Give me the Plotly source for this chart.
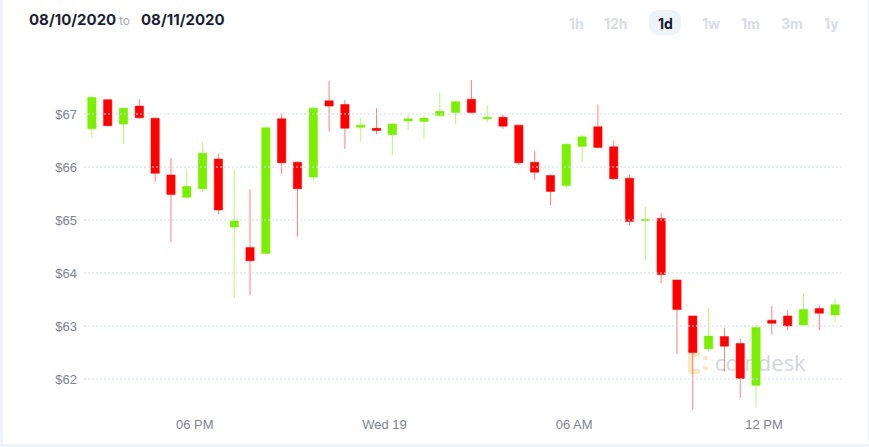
import base64
import pandas as pd
import plotly.graph_objects as go

# ---------------- data (USD, 30-minute candles) ----------------
open_ = [66.72, 67.27, 66.81, 67.15, 66.92, 65.85, 65.43, 65.59, 66.15, 64.87,
         64.48, 64.37, 66.91, 66.09, 65.81, 67.25, 67.18, 66.75, 66.73, 66.61,
         66.87, 66.86, 66.97, 67.03, 67.28, 66.91, 66.94, 66.79, 66.09, 65.84,
         65.65, 66.39, 66.76, 66.38, 65.79, 64.99, 65.03, 63.87, 63.19, 62.57,
         62.80, 62.67, 61.88, 63.11, 63.19, 63.02, 63.33, 63.21]
high = [67.35, 67.28, 67.12, 67.28, 66.93, 66.17, 65.96, 66.47, 66.25, 65.94,
        65.58, 66.75, 67.01, 66.10, 67.14, 67.63, 67.26, 66.93, 67.11, 66.84,
        66.99, 66.97, 67.41, 67.26, 67.64, 67.17, 66.99, 66.80, 66.30, 65.86,
        66.45, 66.62, 67.18, 66.50, 65.86, 65.25, 65.13, 63.87, 63.19, 63.34,
        62.97, 62.76, 63.04, 63.38, 63.29, 63.60, 63.40, 63.52]
low = [66.54, 66.76, 66.43, 66.91, 65.72, 64.59, 65.40, 65.52, 65.10, 63.52,
       63.58, 64.36, 65.87, 64.69, 65.74, 66.67, 66.34, 66.48, 66.62, 66.23,
       66.70, 66.53, 66.95, 66.81, 67.01, 66.84, 66.72, 66.04, 65.76, 65.28,
       65.59, 66.09, 66.35, 65.75, 64.89, 64.24, 63.81, 62.47, 61.42, 62.52,
       62.14, 61.64, 61.46, 62.84, 62.92, 63.00, 62.92, 63.06]
close = [67.31, 66.78, 67.11, 66.93, 65.88, 65.48, 65.63, 66.26, 65.19, 64.98,
         64.23, 66.74, 66.08, 65.59, 67.11, 67.15, 66.73, 66.79, 66.69, 66.81,
         66.91, 66.92, 67.05, 67.23, 67.03, 66.94, 66.77, 66.08, 65.90, 65.54,
         66.43, 66.57, 66.37, 65.78, 64.97, 65.01, 63.97, 63.31, 62.50, 62.81,
         62.62, 62.01, 62.97, 63.05, 63.00, 63.31, 63.24, 63.40]
times = pd.date_range("2020-08-18 14:45", periods=len(open_), freq="30min")

y_tick_vals = [62, 63, 64, 65, 66, 67]
y_tick_text = ["$62", "$63", "$64", "$65", "$66", "$67"]
x_tick_vals = ["2020-08-18 18:00", "2020-08-19 00:00", "2020-08-19 06:00", "2020-08-19 12:00"]
x_tick_text = ["06 PM", "Wed 19", "06 AM", "12 PM"]
x_range = ["2020-08-18 14:30", "2020-08-19 14:30"]
y_range = [61.321, 68.019]

header_from = "08/10/2020"
header_to = "08/11/2020"
range_buttons = ["1h", "12h", "1d", "1w", "1m", "3m", "1y"]
active_button = "1d"

# ---------------- layout geometry (pixels) ----------------
W, H = 869, 447
ML, MR, MT, MB = 84, 26, 60, 32
PW, PH = W - ML - MR, H - MT - MB


def px_x(px):
    return (px - ML) / PW


def px_y(py):
    return (H - MB - py) / PH


fig = go.Figure()
fig.add_trace(go.Candlestick(
    x=times, open=open_, high=high, low=low, close=close,
    increasing=dict(fillcolor="#7af000", line=dict(color="rgba(122,240,0,0.55)", width=1)),
    decreasing=dict(fillcolor="#ff0000", line=dict(color="rgba(255,0,0,0.5)", width=1)),
    whiskerwidth=0, showlegend=False, hoverinfo="skip",
))

shapes = []
# dotted gridlines drawn above the candles (as in the reference)
for v in y_tick_vals:
    shapes.append(dict(type="line", xref="paper", yref="y", x0=0, x1=1, y0=v, y1=v,
                       layer="above", line=dict(color="#d3dbee", width=1, dash="2px,2px")))
# page frame strips
strip = "#eef2f9"
shapes.append(dict(type="rect", xref="paper", yref="paper", x0=px_x(0), x1=px_x(3),
                   y0=px_y(H), y1=px_y(0), fillcolor=strip, line=dict(width=0), layer="below"))
shapes.append(dict(type="rect", xref="paper", yref="paper", x0=px_x(0), x1=px_x(W),
                   y0=px_y(H), y1=px_y(444), fillcolor=strip, line=dict(width=0), layer="below"))
shapes.append(dict(type="rect", xref="paper", yref="paper", x0=px_x(868), x1=px_x(W),
                   y0=px_y(H), y1=px_y(0), fillcolor=strip, line=dict(width=0), layer="below"))

# active button pill (rounded rect)
bx0, bx1, by0, by1, r = 649, 681, 10, 35, 10
pts = [
    ("M", bx0 + r, by0), ("L", bx1 - r, by0), ("Q", bx1, by0, bx1, by0 + r),
    ("L", bx1, by1 - r), ("Q", bx1, by1, bx1 - r, by1), ("L", bx0 + r, by1),
    ("Q", bx0, by1, bx0, by1 - r), ("L", bx0, by0 + r), ("Q", bx0, by0, bx0 + r, by0),
]
path = ""
for p in pts:
    cmd = p[0]
    coords = p[1:]
    segs = []
    for i in range(0, len(coords), 2):
        segs.append(f"{px_x(coords[i]):.5f},{px_y(coords[i + 1]):.5f}")
    path += cmd + " ".join(segs) + " "
path += "Z"
shapes.append(dict(type="path", xref="paper", yref="paper", path=path,
                   fillcolor="#eef2f9", line=dict(width=0), layer="below"))

annotations = []
hdr_font = dict(family="Inter, Noto Sans, sans-serif", size=15, color="#1c1f33")
annotations.append(dict(text=f"<b>{header_from}</b>", x=px_x(27), y=px_y(19.5), xref="paper", yref="paper",
                        xanchor="left", yanchor="middle", showarrow=False, font=hdr_font))
annotations.append(dict(text="to", x=px_x(117), y=px_y(20.5), xref="paper", yref="paper",
                        xanchor="left", yanchor="middle", showarrow=False,
                        font=dict(family="Inter, sans-serif", size=12, color="#a9adba")))
annotations.append(dict(text=f"<b>{header_to}</b>", x=px_x(139), y=px_y(19.5), xref="paper", yref="paper",
                        xanchor="left", yanchor="middle", showarrow=False, font=hdr_font))
btn_centers = [576, 616, 665, 711, 750, 792, 831]
for lab, cx in zip(range_buttons, btn_centers):
    col = "#14172b" if lab == active_button else "#d9dce6"
    annotations.append(dict(text=f"<b>{lab}</b>", x=px_x(cx), y=px_y(24), xref="paper", yref="paper",
                            xanchor="center", yanchor="middle", showarrow=False,
                            font=dict(family="Inter, sans-serif", size=14, color=col)))

# watermark (below the candles)
svg = (
    '<svg xmlns="http://www.w3.org/2000/svg" width="124" height="30" viewBox="0 0 124 30">'
    '<g fill="#fde6c2">'
    '<rect x="2" y="4" width="12" height="5" rx="2"/>'
    '<rect x="2" y="4" width="5" height="22" rx="2"/>'
    '<rect x="2" y="21" width="12" height="5" rx="2"/>'
    '<rect x="17" y="8" width="5" height="4" rx="1.5"/>'
    '<rect x="17" y="18" width="5" height="4" rx="1.5"/>'
    '</g>'
    '<text x="29" y="23" font-family="Open Sans, sans-serif" font-size="22" fill="#d2d5dc">coindesk</text>'
    '</svg>'
)
img_src = "data:image/svg+xml;base64," + base64.b64encode(svg.encode()).decode()
images = [dict(source=img_src, xref="paper", yref="paper", x=px_x(686), y=px_y(348),
               sizex=124 / PW, sizey=30 / PH, xanchor="left", yanchor="top",
               sizing="stretch", layer="below", opacity=1)]

tick_font = dict(family="Liberation Sans, Arial, sans-serif", size=13, color="#7e8391")
fig.update_layout(
    width=W, height=H,
    margin=dict(l=ML, r=MR, t=MT, b=MB, pad=0),
    paper_bgcolor="#ffffff", plot_bgcolor="rgba(0,0,0,0)",
    boxgap=0.25,
    showlegend=False,
    xaxis=dict(type="date", range=x_range, tickmode="array", tickvals=x_tick_vals, ticktext=x_tick_text,
               showgrid=False, zeroline=False, showline=False, ticks="", tickfont=tick_font,
               rangeslider=dict(visible=False), fixedrange=True),
    yaxis=dict(range=y_range, tickmode="array", tickvals=y_tick_vals, ticktext=y_tick_text,
               showgrid=False, zeroline=False, showline=False, ticks="", tickfont=tick_font,
               ticklabelstandoff=6, fixedrange=True),
    shapes=shapes, annotations=annotations, images=images,
)

fig.write_html("out.html", config=dict(displayModeBar=False))
